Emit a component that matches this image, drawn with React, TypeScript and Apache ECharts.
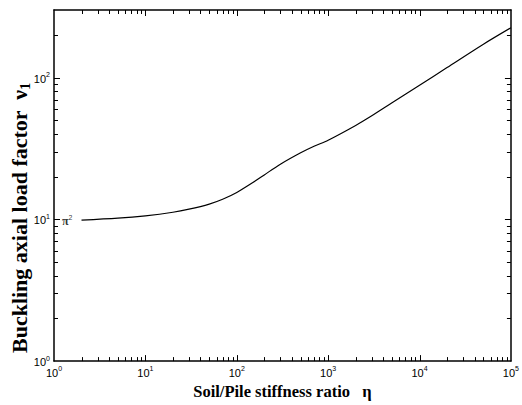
import React, { useEffect, useRef } from "react";
import * as echarts from "echarts";

// Soil/Pile stiffness ratio (eta) and buckling axial load factor (nu1)
const ETA = [2, 5, 10, 20, 30, 50, 70, 100, 150, 200, 300, 500, 700, 1000, 2000, 3000, 5000, 10000, 20000, 50000, 100000];
const NU = [9.87, 10.19, 10.59, 11.22, 11.8, 12.82, 13.87, 15.49, 18.2, 20.6, 24.5, 29.5, 32.8, 36.2, 46.0, 53.8, 66.4, 88.3, 117.8, 172.2, 225];

const X_MIN = 1;
const X_MAX = 100000;
const Y_MIN = 1;
const Y_MAX = 300;
const PI2 = Math.PI * Math.PI;

const X_MAJOR = [10, 100, 1000, 10000];
const Y_MAJOR = [10, 100];
const MINOR_MULT = [2, 3, 4, 5, 6, 7, 8, 9];
const X_DECADES = [1, 10, 100, 1000, 10000];
const Y_DECADES = [1, 10, 100];

const X_MINOR = X_DECADES.flatMap((d) => MINOR_MULT.map((m) => m * d)).filter((v) => v < X_MAX);
const Y_MINOR = Y_DECADES.flatMap((d) => MINOR_MULT.map((m) => m * d)).filter((v) => v < Y_MAX);

const X_TITLE = "Soil/Pile stiffness ratio   ";
const Y_TITLE = "Buckling axial load factor  ";

const powLabel = (v: number) => {
  const e = Math.log10(v);
  if (Math.abs(e - Math.round(e)) > 1e-6) return "";
  return `{b|10}{s|${Math.round(e)}}`;
};

const tickRich = {
  b: { fontSize: 11, fontFamily: "Liberation Sans, Arial, sans-serif", color: "#000", lineHeight: 13, verticalAlign: "bottom" },
  s: { fontSize: 7, fontFamily: "Liberation Sans, Arial, sans-serif", color: "#000", lineHeight: 13, verticalAlign: "top" },
};

const SERIF = "Liberation Serif, Times New Roman, serif";

// tick marks drawn through the axes' own scales (both sides of the box)
const xTickSeries = (values: number[], len: number) => ({
  type: "custom",
  coordinateSystem: "cartesian2d",
  silent: true,
  clip: false,
  z: 10,
  encode: { x: 0, y: 1 },
  data: values.map((v) => [v, 10]),
  renderItem: (params: any, api: any) => {
    const cs = params.coordSys;
    const px = Math.round(api.coord([api.value(0), api.value(1)])[0]) + 0.5;
    const b = cs.y + cs.height;
    return {
      type: "group",
      children: [
        { type: "line", shape: { x1: px, y1: b, x2: px, y2: b - len }, style: { stroke: "#000", lineWidth: 1 } },
        { type: "line", shape: { x1: px, y1: cs.y, x2: px, y2: cs.y + len }, style: { stroke: "#000", lineWidth: 1 } },
      ],
    };
  },
});

const yTickSeries = (values: number[], len: number) => ({
  type: "custom",
  coordinateSystem: "cartesian2d",
  silent: true,
  clip: false,
  z: 10,
  encode: { x: 0, y: 1 },
  data: values.map((v) => [10, v]),
  renderItem: (params: any, api: any) => {
    const cs = params.coordSys;
    const py = Math.round(api.coord([api.value(0), api.value(1)])[1]) + 0.5;
    const r = cs.x + cs.width;
    return {
      type: "group",
      children: [
        { type: "line", shape: { x1: cs.x, y1: py, x2: cs.x + len, y2: py }, style: { stroke: "#000", lineWidth: 1 } },
        { type: "line", shape: { x1: r, y1: py, x2: r - len, y2: py }, style: { stroke: "#000", lineWidth: 1 } },
      ],
    };
  },
});

export default function App() {
  const ref = useRef<HTMLDivElement>(null);
  useEffect(() => {
    if (!ref.current) return;
    const chart = echarts.init(ref.current, null, { renderer: "svg" });
    const axisLine = { show: true, lineStyle: { color: "#000", width: 1.5 } };
    const option: any = {
      animation: false,
      backgroundColor: "#fff",
      grid: { left: 54, right: 7, top: 10, bottom: 38, containLabel: false },
      xAxis: [
        {
          type: "log",
          logBase: 10,
          min: X_MIN,
          max: X_MAX,
          axisLine,
          axisTick: { show: false },
          splitLine: { show: false },
          axisLabel: { margin: 4, color: "#000", formatter: powLabel, rich: tickRich },
          name: `{t|${X_TITLE}}{e|η}`,
          nameLocation: "middle",
          nameGap: 13,
          nameTextStyle: {
            color: "#000",
            rich: {
              t: { fontFamily: SERIF, fontWeight: "bold", fontSize: 16.5, color: "#000" },
              e: { fontFamily: SERIF, fontWeight: "bold", fontSize: 16.5, color: "#000" },
            },
          },
        },
        {
          type: "log",
          logBase: 10,
          min: X_MIN,
          max: X_MAX,
          position: "top",
          axisLine,
          axisTick: { show: false },
          axisLabel: { show: false },
          splitLine: { show: false },
        },
      ],
      yAxis: [
        {
          type: "log",
          logBase: 10,
          min: Y_MIN,
          max: Y_MAX,
          axisLine,
          axisTick: { show: false },
          splitLine: { show: false },
          axisLabel: { margin: 4, color: "#000", formatter: powLabel, rich: tickRich },
        },
        {
          type: "log",
          logBase: 10,
          min: Y_MIN,
          max: Y_MAX,
          position: "right",
          axisLine,
          axisTick: { show: false },
          axisLabel: { show: false },
          splitLine: { show: false },
        },
      ],
      graphic: [
        {
          type: "text",
          x: 19,
          y: 218,
          rotation: Math.PI / 2,
          style: {
            text: `{t|${Y_TITLE}}{v|ν}{s|1}`,
            align: "center",
            verticalAlign: "middle",
            rich: {
              t: { fontFamily: SERIF, fontWeight: "bold", fontSize: 22, fill: "#000", lineHeight: 26, verticalAlign: "middle" },
              v: { fontFamily: SERIF, fontWeight: "bold", fontSize: 22, fill: "#000", lineHeight: 26, verticalAlign: "middle" },
              s: { fontFamily: SERIF, fontWeight: "bold", fontSize: 14, fill: "#000", lineHeight: 26, verticalAlign: "bottom" },
            },
          },
        },
      ],
      series: [
        {
          type: "line",
          data: ETA.map((x, i) => [x, NU[i]]),
          showSymbol: false,
          symbol: "none",
          smooth: 0.3,
          lineStyle: { color: "#000", width: 1.2 },
          silent: true,
        },
        {
          type: "scatter",
          data: [[X_MIN, PI2]],
          symbolSize: 0,
          silent: true,
          itemStyle: { color: "#000" },
          label: {
            show: true,
            position: "right",
            distance: 8,
            color: "#000",
            formatter: "{p|π}{s|2}",
            rich: {
              p: { fontFamily: SERIF, fontWeight: "bold", fontSize: 12, color: "#000", lineHeight: 13, verticalAlign: "bottom" },
              s: { fontFamily: "Liberation Sans, Arial, sans-serif", fontSize: 7, color: "#000", lineHeight: 13, verticalAlign: "top" },
            },
          },
        },
        xTickSeries(X_MAJOR, 6),
        xTickSeries(X_MINOR, 4),
        yTickSeries(Y_MAJOR, 6),
        yTickSeries(Y_MINOR, 4),
      ],
    };
    chart.setOption(option);
    return () => chart.dispose();
  }, []);
  return <div ref={ref} style={{ width: 522, height: 405, position: "absolute", left: 0, top: 0 }} />;
}
